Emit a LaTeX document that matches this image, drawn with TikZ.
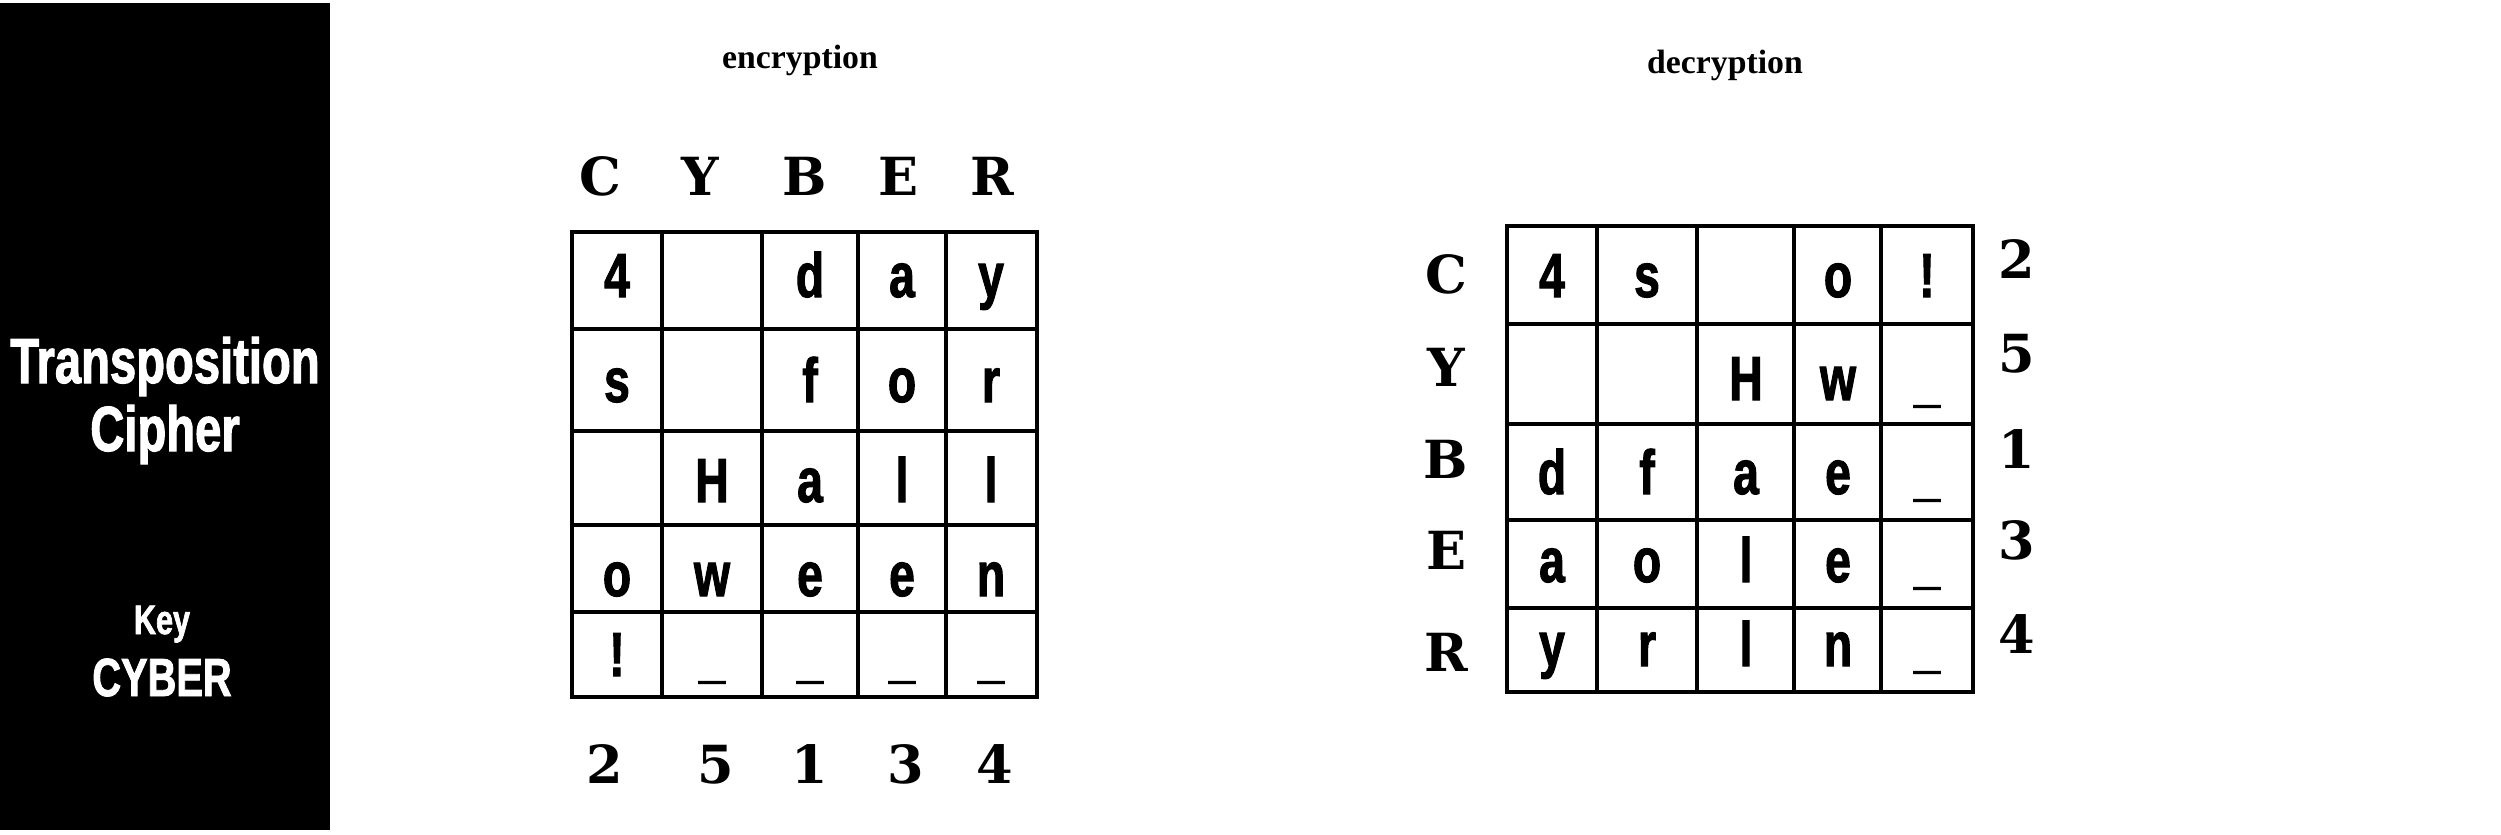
\documentclass[tikz,border=0pt]{standalone}
\usepackage{fontspec}
\newfontfamily\condfont[FakeStretch=0.74, BoldFeatures={FakeBold=1.6}]{Liberation Sans}
\newfontfamily\slabfont{DejaVu Serif}
\newfontfamily\capfont{Liberation Serif}
\usetikzlibrary{positioning}
\tikzset{
  glyph/.style    = {inner sep=0pt, anchor=base, font=\condfont\bfseries\fontsize{25}{25}\selectfont},
  keychar/.style  = {inner sep=0pt, anchor=base, font=\slabfont\bfseries\fontsize{21}{21}\selectfont},
  caption/.style  = {inner sep=0pt, anchor=base, font=\capfont\bfseries\fontsize{13.5}{13.5}\selectfont},
  panel/.style    = {inner sep=0pt, anchor=base, text=white, font=\condfont\bfseries\fontsize{25.5}{25.5}\selectfont},
  gridline/.style = {line width=1.5pt, line cap=rect}
}

\begin{document}
\begin{tikzpicture}[x=0.4pt, y=-0.4pt]
  \useasboundingbox (0,0) rectangle (2501,834);

  % black title panel
  \fill (0,3) rectangle (330,830);
  \node[panel] (title-a) at (165,383) {Transposition};
  \node[panel] (title-b) at (165,451) {Cipher};
  \node[panel, font=\condfont\bfseries\fontsize{16.5}{16.5}\selectfont] (key-label) at (162,634) {Key};
  \node[panel, font=\condfont\bfseries\fontsize{21.5}{21.5}\selectfont] (key-word) at (162,696) {CYBER};

  % encryption grid
  \node[caption] (enc-title) at (800,68) {encryption};
  \foreach \x in {572,662,762,858,946,1037}
    \draw[gridline] (\x,232) -- (\x,697);
  \foreach \y in {232,329,431,525,612,697}
    \draw[gridline] (572,\y) -- (1037,\y);

  \foreach \t/\cx [count=\i] in {C/600,Y/700,B/805,E/898,R/992}
    \node[keychar] (enc-key-\i) at (\cx,195) {\t};
  \foreach \t/\cx [count=\i] in {2/605,5/716,1/810,3/906,4/995}
    \node[keychar] (enc-ord-\i) at (\cx,783) {\t};

  \foreach \base/\cells [count=\r] in {297/{4,{},d,a,y}, 402/{s,{},f,o,r},
      502/{{},H,a,l,l}, 596/{o,w,e,e,n}, 676/{!,\_,\_,\_,\_}}
    \foreach \t [count=\c] in \cells {
      \pgfmathsetmacro{\cx}{{617,712,810,902,991}[\c-1]}
      \node[glyph] (enc-\r-\c) at (\cx,\base) {\t};
    }

  % decryption grid
  \node[caption] (dec-title) at (1725,73) {decryption};
  \foreach \x in {1507,1597,1697,1794,1881,1973}
    \draw[gridline] (\x,226) -- (\x,692);
  \foreach \y in {226,324,424,520,608,692}
    \draw[gridline] (1507,\y) -- (1973,\y);

  \foreach \t/\by [count=\i] in {C/293,Y/386,B/478,E/569,R/671}
    \node[keychar] (dec-key-\i) at (1446,\by) {\t};
  \foreach \t/\by [count=\i] in {2/278,5/372,1/468,3/559,4/653}
    \node[keychar] (dec-ord-\i) at (2017,\by) {\t};

  \foreach \base/\cells [count=\r] in {297/{4,s,{},o,!}, 400/{{},{},H,w,\_},
      494/{d,f,a,e,\_}, 582/{a,o,l,e,\_}, 666/{y,r,l,n,\_}}
    \foreach \t [count=\c] in \cells {
      \pgfmathsetmacro{\cx}{{1552,1647,1746,1838,1927}[\c-1]}
      \node[glyph] (dec-\r-\c) at (\cx,\base) {\t};
    }
\end{tikzpicture}
\end{document}
